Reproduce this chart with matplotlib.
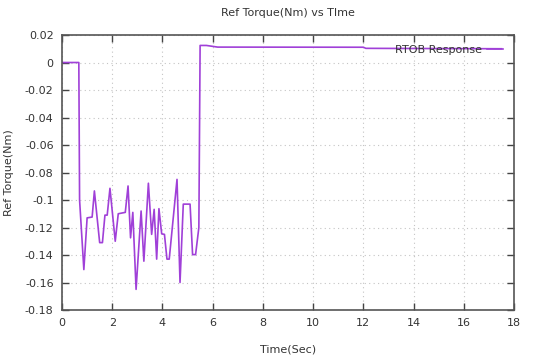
import matplotlib
matplotlib.use("Agg")
import matplotlib.pyplot as plt

# data
time_s = [0.0, 0.67, 0.70, 0.87, 1.00, 1.20, 1.29, 1.50, 1.61, 1.71, 1.80, 1.91,
          2.12, 2.24, 2.52, 2.63, 2.73, 2.82, 2.95, 3.15, 3.26, 3.44, 3.57, 3.67,
          3.77, 3.86, 3.97, 4.08, 4.18, 4.27, 4.58, 4.70, 4.83, 5.10, 5.20, 5.32,
          5.45, 5.50, 5.75, 6.2, 12.0, 12.1, 17.5]
torque = [0.0, 0.0, -0.10, -0.1506, -0.113, -0.1124, -0.0934, -0.131, -0.131,
          -0.111, -0.111, -0.0915, -0.130, -0.110, -0.109, -0.0898, -0.1275,
          -0.109, -0.165, -0.108, -0.1445, -0.0878, -0.125, -0.1068, -0.143,
          -0.1063, -0.1246, -0.125, -0.143, -0.143, -0.085, -0.160, -0.103,
          -0.103, -0.1397, -0.1397, -0.12, 0.0124, 0.0124, 0.0112, 0.0111,
          0.0103, 0.0100]

xticks = [0, 2, 4, 6, 8, 10, 12, 14, 16, 18]
yticks = [0.02, 0, -0.02, -0.04, -0.06, -0.08, -0.1, -0.12, -0.14, -0.16, -0.18]
ytick_labels = ["0.02", "0", "-0.02", "-0.04", "-0.06", "-0.08", "-0.1",
                "-0.12", "-0.14", "-0.16", "-0.18"]

W, H = 538, 362
fig = plt.figure(figsize=(W / 100, H / 100), dpi=100)
left, right, top, bottom = 62, 514, 35, 310
ax = fig.add_axes([left / W, 1 - bottom / H, (right - left) / W, (bottom - top) / H])

line_color = "#a040d8"
ax.plot(time_s, torque, color=line_color, lw=1.2, label="RTOB Response")

ax.set_xlim(0, 18)
ax.set_ylim(-0.18, 0.02)
ax.set_xticks(xticks)
ax.set_yticks(yticks)
ax.set_yticklabels(ytick_labels)

txt = "#333333"
ax.tick_params(direction="in", top=True, right=True, length=5, width=1,
               labelsize=8, colors="#444444", labelcolor=txt, pad=6)
for s in ax.spines.values():
    s.set_color("#555555")
    s.set_linewidth(1.2)
ax.grid(True, color="#c4c4c4", linestyle=(0, (1, 3)), linewidth=0.8)

ax.set_title("Ref Torque(Nm) vs TIme", fontsize=8, color=txt, pad=14)
ax.set_xlabel("Time(Sec)", fontsize=8, color=txt, labelpad=12)
ax.set_ylabel("Ref Torque(Nm)", fontsize=8, color=txt, labelpad=8)

leg = ax.legend(loc="upper right", frameon=False, fontsize=8, markerfirst=False,
                handlelength=1.4, handletextpad=0.5, borderaxespad=0.0,
                bbox_to_anchor=(0.985, 0.98))
for t in leg.get_texts():
    t.set_color(txt)

fig.savefig("out.png", dpi=100)
